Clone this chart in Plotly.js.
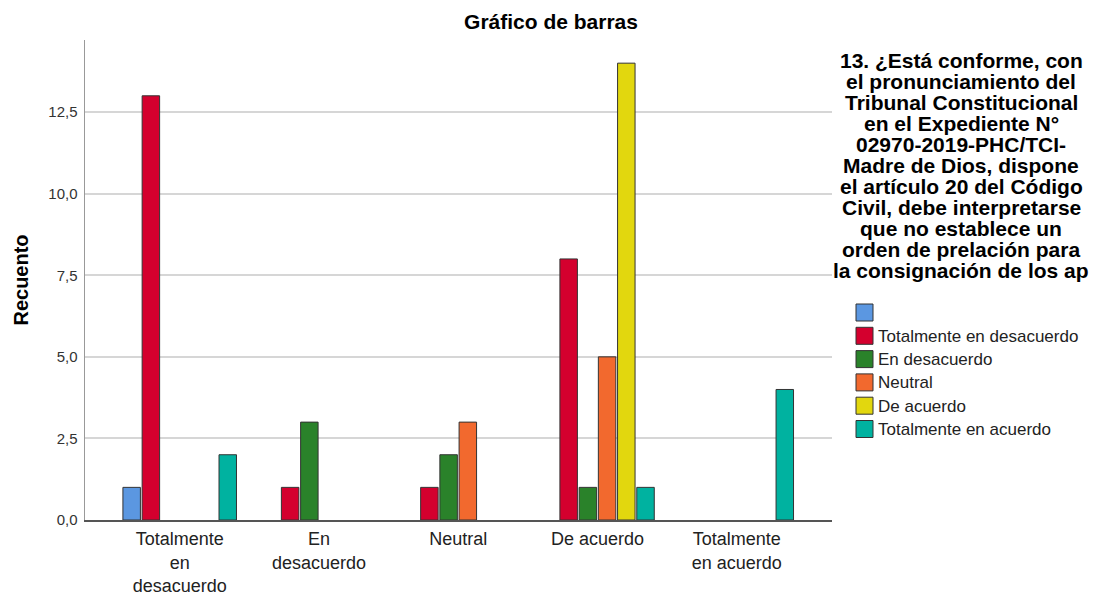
<!DOCTYPE html>
<html>
<head>
<meta charset="utf-8">
<script src="https://cdn.plot.ly/plotly-3.0.1.min.js"></script>
<style>html,body{margin:0;padding:0;background:#fff;}#chart{width:1107px;height:596px;}</style>
</head>
<body>
<div id="chart"></div>
<script>
// ---- data ----
const categories = ['Totalmente<br>en<br>desacuerdo', 'En<br>desacuerdo', 'Neutral', 'De acuerdo', 'Totalmente<br>en acuerdo'];
const seriesNames = ['', 'Totalmente en desacuerdo', 'En desacuerdo', 'Neutral', 'De acuerdo', 'Totalmente en acuerdo'];
const vacio = [1, null, null, null, null];
const totalmenteEnDesacuerdo = [13, 1, 1, 8, null];
const enDesacuerdo = [null, 3, 2, 1, null];
const neutral = [null, null, 3, 5, null];
const deAcuerdo = [null, null, null, 14, null];
const totalmenteEnAcuerdo = [2, null, null, 1, 4];
const seriesValues = [vacio, totalmenteEnDesacuerdo, enDesacuerdo, neutral, deAcuerdo, totalmenteEnAcuerdo];
const seriesColors = ['#5b97e1', '#d4002e', '#2a822a', '#f2692e', '#e2d70e', '#00b2a0'];
const legendTitleLines = [
  '13. ¿Está conforme, con',
  'el pronunciamiento del',
  'Tribunal Constitucional',
  'en el Expediente N°',
  '02970-2019-PHC/TCI-',
  'Madre de Dios, dispone',
  'el artículo 20 del Código',
  'Civil, debe interpretarse',
  'que no establece un',
  'orden de prelación para',
  'la consignación de los ap'
];

// ---- geometry helpers (pixel -> paper) ----
const W = 1107, H = 596;
const M = {l: 85, r: 275, t: 40, b: 76};
const pw = W - M.l - M.r, ph = H - M.t - M.b;
const px = x => (x - M.l) / pw;
const py = y => (H - M.b - y) / ph;

const traces = seriesValues.map((vals, i) => ({
  type: 'bar',
  x: categories,
  y: vals,
  name: seriesNames[i],
  marker: {color: seriesColors[i], line: {color: '#333333', width: 1}},
  showlegend: false,
  hoverinfo: 'x+y'
}));

const shapes = [];
const annotations = [];
// legend title
legendTitleLines.forEach((t, i) => {
  annotations.push({
    xref: 'paper', yref: 'paper', x: px(961), y: py(61 + i * 20.9),
    xanchor: 'center', yanchor: 'middle', showarrow: false,
    text: '<b>' + t + '</b>',
    font: {family: 'Liberation Sans, Arial, sans-serif', size: 21, color: '#000'}
  });
});
// legend items
seriesNames.forEach((n, i) => {
  const top = 304 + i * 23.3;
  shapes.push({
    type: 'rect', xref: 'paper', yref: 'paper',
    x0: px(856), x1: px(873), y0: py(top), y1: py(top + 17),
    fillcolor: seriesColors[i], line: {color: '#333333', width: 1}
  });
  if (n) annotations.push({
    xref: 'paper', yref: 'paper', x: px(876), y: py(top + 9),
    xanchor: 'left', yanchor: 'middle', showarrow: false, text: n,
    font: {family: 'Liberation Sans, Arial, sans-serif', size: 17, color: '#222'}
  });
});

const layout = {
  width: W, height: H,
  margin: M,
  paper_bgcolor: '#fff', plot_bgcolor: '#fff',
  separators: ',.',
  barmode: 'group', bargap: 0.172, bargroupgap: 0.09,
  font: {family: 'Liberation Sans, Arial, sans-serif', color: '#222'},
  title: {text: '<b>Gráfico de barras</b>', x: 551 / W, xanchor: 'center', y: 1 - 22 / H, yanchor: 'middle',
          font: {size: 21, color: '#000'}},
  xaxis: {
    type: 'category', range: [-0.68, 4.684],
    showline: true, linecolor: '#555', linewidth: 1.5,
    showgrid: false, ticks: '', ticklabelstandoff: 2,
    tickfont: {size: 18, color: '#222'},
    automargin: false,
    fixedrange: true
  },
  yaxis: {
    range: [0, 14.71], dtick: 2.5, tick0: 0, tickformat: '.1f',
    showline: true, linecolor: '#999', linewidth: 1.5,
    showgrid: true, gridcolor: '#d6d6d6', gridwidth: 2,
    zeroline: false, ticks: '', ticklabelstandoff: 3,
    tickfont: {size: 15, color: '#333'},
    title: {text: '<b>Recuento</b>', font: {size: 20, color: '#000'}, standoff: 14},
    automargin: false,
    fixedrange: true
  },
  shapes: shapes,
  annotations: annotations
};

Plotly.newPlot('chart', traces, layout, {displayModeBar: false, staticPlot: true});
</script>
</body>
</html>
